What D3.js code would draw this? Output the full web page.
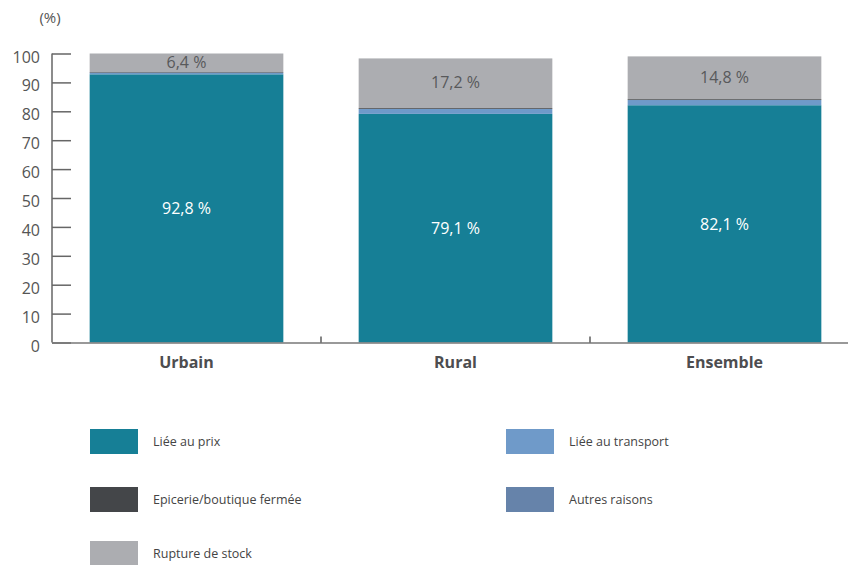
<!DOCTYPE html>
<html>
<head>
<meta charset="utf-8">
<script src="https://cdn.jsdelivr.net/npm/d3@7"></script>
<style>
  body { margin: 0; background: #fff; }
  svg { display: block; font-family: "Open Sans", sans-serif; }
</style>
</head>
<body>
<svg id="chart" width="848" height="565"></svg>
<script>
// Categories and series (values in %)
const categories = ['Urbain', 'Rural', 'Ensemble'];
const prix      = [92.8, 79.1, 82.1];
const transport = [0.6, 1.7, 1.8];
const autres    = [0.0, 0.0, 0.0];
const fermee    = [0.2, 0.3, 0.3];
const rupture   = [6.4, 17.2, 14.8];
const yTicks = [0, 10, 20, 30, 40, 50, 60, 70, 80, 90, 100];

const series = [
    {key: 'prix', name: 'Liée au prix', values: prix, color: '#167f96'},
    {key: 'transport', name: 'Liée au transport', values: transport, color: '#6f9ac9'},
    {key: 'autres', name: 'Autres raisons', values: autres, color: '#6683aa'},
    {key: 'fermee', name: 'Epicerie/boutique fermée', values: fermee, color: '#444649'},
    {key: 'rupture', name: 'Rupture de stock', values: rupture, color: '#acadb1'}
];

const table = categories.map((c, i) => {
    const row = {cat: c};
    series.forEach(s => { row[s.key] = s.values[i]; });
    return row;
});

const svg = d3.select('#chart');
const plotLeft = 52, plotRight = 859, plotTop = 53.5, plotBottom = 342.5;

const x = d3.scaleBand()
    .domain(categories)
    .range([plotLeft, plotRight])
    .paddingInner(0.28)
    .paddingOuter(0.14);

const y = d3.scaleLinear()
    .domain([0, 100])
    .range([plotBottom, plotTop]);

const stack = d3.stack().keys(series.map(s => s.key));
const layers = stack(table);

// Bars
svg.append('g')
    .selectAll('g')
    .data(layers)
    .join('g')
    .attr('fill', (d, i) => series[i].color)
    .selectAll('rect')
    .data(d => d)
    .join('rect')
    .attr('x', d => x(d.data.cat))
    .attr('width', x.bandwidth())
    .attr('y', d => y(d[1]))
    .attr('height', d => y(d[0]) - y(d[1]));

// Value labels
const fmt = v => d3.format('.1f')(v).replace('.', ',') + ' %';
const prixLayer = layers[0];
const rupLayer = layers[4];
svg.append('g')
    .selectAll('text')
    .data(prixLayer)
    .join('text')
    .attr('x', d => x(d.data.cat) + x.bandwidth() / 2)
    .attr('y', d => (y(d[0]) + y(d[1])) / 2 + 6)
    .attr('text-anchor', 'middle')
    .attr('fill', '#fff')
    .style('font-size', '16px')
    .text(d => fmt(d.data.prix));

svg.append('g')
    .selectAll('text')
    .data(rupLayer)
    .join('text')
    .attr('x', d => x(d.data.cat) + x.bandwidth() / 2)
    .attr('y', d => (y(d[0]) + y(d[1])) / 2 + 5)
    .attr('text-anchor', 'middle')
    .attr('fill', '#58595b')
    .style('font-size', '16px')
    .text(d => fmt(d.data.rupture));

// Y axis
const yAxis = svg.append('g')
    .attr('transform', `translate(${plotLeft},0)`)
    .call(d3.axisRight(y).tickValues(yTicks).tickSize(19).tickFormat(''));
yAxis.select('.domain').attr('stroke', '#666').attr('stroke-width', 1.5).attr('d', `M0,${plotTop}V${plotBottom}`);
yAxis.selectAll('.tick line').attr('stroke', '#666').attr('stroke-width', 1.5);

svg.append('g')
    .selectAll('text')
    .data(yTicks)
    .join('text')
    .attr('x', 40)
    .attr('y', d => y(d) + 9)
    .attr('text-anchor', 'end')
    .attr('fill', '#555')
    .style('font-size', '16px')
    .text(d => d);

svg.append('text')
    .attr('x', 50)
    .attr('y', 23)
    .attr('text-anchor', 'middle')
    .attr('fill', '#555')
    .style('font-size', '15px')
    .text('(%)');

// X axis
svg.append('line')
    .attr('x1', plotLeft).attr('x2', 848)
    .attr('y1', plotBottom + 0.5).attr('y2', plotBottom + 0.5)
    .attr('stroke', '#777').attr('stroke-width', 1.5);

// dividers between categories
svg.append('g')
    .selectAll('line')
    .data(categories.slice(1))
    .join('line')
    .attr('x1', d => x(d) - x.step() * x.paddingInner() / 2)
    .attr('x2', d => x(d) - x.step() * x.paddingInner() / 2)
    .attr('y1', plotBottom)
    .attr('y2', plotBottom - 6)
    .attr('stroke', '#333')
    .attr('stroke-width', 1.2);

svg.append('g')
    .selectAll('text')
    .data(categories)
    .join('text')
    .attr('x', d => x(d) + x.bandwidth() / 2)
    .attr('y', 368)
    .attr('text-anchor', 'middle')
    .attr('fill', '#4d4d4f')
    .style('font-size', '16px')
    .style('font-weight', 'bold')
    .text(d => d);

// Legend
const legendItems = [
    {s: series[0], col: 0, row: 0},
    {s: series[1], col: 1, row: 0},
    {s: series[3], col: 0, row: 1},
    {s: series[2], col: 1, row: 1},
    {s: series[4], col: 0, row: 2}
];
const legX = [90, 506], legY = [429, 487, 541];

const leg = svg.append('g')
    .selectAll('g')
    .data(legendItems)
    .join('g')
    .attr('transform', d => `translate(${legX[d.col]},${legY[d.row]})`);

leg.append('rect')
    .attr('width', 48)
    .attr('height', 25)
    .attr('fill', d => d.s.color);

leg.append('text')
    .attr('x', 63)
    .attr('y', 17)
    .attr('fill', '#444')
    .style('font-size', '12.5px')
    .text(d => d.s.name);
</script>
</body>
</html>
